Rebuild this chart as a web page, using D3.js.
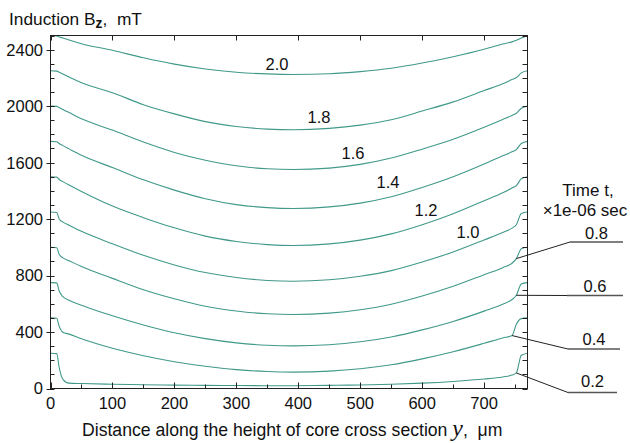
<!DOCTYPE html>
<html><head><meta charset="utf-8">
<script src="https://cdn.jsdelivr.net/npm/d3@7"></script>
<style>
html,body{margin:0;padding:0;background:#fff;}
svg{display:block;font-family:"Liberation Sans",Arial,sans-serif;}
</style></head>
<body><svg id="c" width="630" height="443"></svg>
<script>
// ---- data ----
const xPos = [0, 10, 14, 20, 30, 50, 100, 150, 200, 250, 300, 350, 392, 450, 500, 550, 600, 650, 700, 730, 745, 752, 760, 770];
const times = ["0.2","0.4","0.6","0.8","1.0","1.2","1.4","1.6","1.8","2.0"];
const b02 = [250, 247, 150, 65, 38, 35, 30, 27, 24, 22, 21, 20, 20, 22, 25, 30, 38, 50, 67, 82, 95, 110, 235, 250];
const b04 = [500, 497, 440, 398, 385, 352, 285, 232, 190, 158, 134, 120, 116, 123, 140, 168, 210, 260, 320, 358, 375, 455, 495, 500];
const b06 = [750, 748, 690, 650, 625, 590, 515, 450, 395, 353, 323, 306, 302, 310, 331, 365, 415, 475, 548, 596, 630, 660, 740, 750];
const b08 = [1000, 997, 950, 925, 905, 864, 780, 700, 636, 583, 549, 529, 524, 534, 558, 597, 655, 724, 806, 856, 887, 920, 990, 1000];
const b10 = [1250, 1247, 1200, 1178, 1156, 1113, 1025, 943, 875, 821, 786, 765, 760, 770, 795, 835, 896, 967, 1052, 1105, 1136, 1160, 1240, 1250];
const b12 = [1500, 1497, 1480, 1465, 1441, 1395, 1292, 1210, 1138, 1079, 1041, 1019, 1013, 1024, 1051, 1095, 1160, 1238, 1330, 1386, 1420, 1437, 1485, 1500];
const b14 = [1750, 1748, 1735, 1720, 1697, 1652, 1565, 1478, 1405, 1344, 1302, 1281, 1275, 1286, 1313, 1358, 1424, 1500, 1590, 1648, 1676, 1692, 1735, 1750];
const b16 = [2000, 1998, 1990, 1976, 1954, 1910, 1830, 1745, 1672, 1617, 1577, 1556, 1551, 1561, 1587, 1632, 1695, 1765, 1850, 1905, 1934, 1949, 1985, 2000];
const b18 = [2250, 2248, 2240, 2227, 2206, 2166, 2095, 2010, 1945, 1890, 1856, 1837, 1832, 1842, 1865, 1903, 1965, 2030, 2110, 2158, 2188, 2202, 2235, 2250];
const b20 = [2500, 2497, 2490, 2482, 2468, 2442, 2395, 2342, 2297, 2263, 2240, 2228, 2224, 2229, 2244, 2268, 2305, 2350, 2403, 2440, 2455, 2466, 2482, 2500];
const seriesVals = [b02, b04, b06, b08, b10, b12, b14, b16, b18, b20];
const xTicks = [0,100,200,300,400,500,600,700];
const yTicks = [0,400,800,1200,1600,2000,2400];
// inner labels (times 1.0..2.0), positioned in pixels
const innerLabels = [["2.0",277,70],["1.8",319,123],["1.6",353,159],["1.4",388,188],["1.2",426,216],["1.0",468,238]];
// outer labels: time, anchor x on curve, label line y, text baseline
const outerLabels = [["0.8",752,242,239],["0.6",752,295.5,292],["0.4",745,349,345],["0.2",752,392.5,387]];

// ---- layout ----
const svg = d3.select("#c");
const L=50.5, R=527.5, T=35.5, B=388.5;
const x = d3.scaleLinear().domain([0,770]).range([L,R]);
const y = d3.scaleLinear().domain([0,2500]).range([B,T]);
const curveColor = "#40998a";
const axisColor = "#222";

svg.append("rect").attr("width",630).attr("height",443).attr("fill","#fff");

svg.append("defs").append("clipPath").attr("id","clip")
  .append("rect").attr("x",L).attr("y",T-1).attr("width",R-L).attr("height",B-T+1);

const line = d3.line().x(d=>x(d[0])).y(d=>y(d[1])).curve(d3.curveMonotoneX);
const gCurves = svg.append("g").attr("clip-path","url(#clip)");
seriesVals.forEach((vals,i)=>{
  gCurves.append("path").datum(xPos.map((xx,j)=>[xx,vals[j]]))
    .attr("d",line).attr("fill","none").attr("stroke",curveColor).attr("stroke-width",1.1);
});

// frame
svg.append("rect").attr("x",L).attr("y",T).attr("width",R-L).attr("height",B-T)
  .attr("fill","none").attr("stroke",axisColor).attr("stroke-width",1);

// ticks
const tk = svg.append("g").attr("stroke",axisColor).attr("stroke-width",1);
d3.range(0,771,50).forEach(v=>{
  const px = Math.round(x(v))+0.5;
  const major = v%100===0;
  tk.append("line").attr("x1",px).attr("x2",px).attr("y1",B).attr("y2",B-(major?6:4));
  if(major) tk.append("line").attr("x1",px).attr("x2",px).attr("y1",T).attr("y2",T+5);
});
d3.range(0,2501,100).forEach(v=>{
  const py = Math.round(y(v))+0.5;
  const major = v%400===0;
  tk.append("line").attr("x1",major?L-4:L).attr("x2",L+4).attr("y1",py).attr("y2",py);
  tk.append("line").attr("x1",R).attr("x2",R-5).attr("y1",py).attr("y2",py);
});

// tick labels
const fs = "16.5px";
svg.append("g").selectAll("text").data(xTicks).join("text")
  .attr("x",d=>x(d)).attr("y",409).attr("text-anchor","middle")
  .attr("font-size",fs).attr("fill","#111").text(d=>d);
svg.append("g").selectAll("text").data(yTicks).join("text")
  .attr("x",43).attr("y",d=>y(d)).attr("dy","0.36em").attr("text-anchor","end")
  .attr("font-size",fs).attr("fill","#111").text(d=>d);

// fit helper: scale font of a text node so its width matches target
function fit(sel, target){
  const w = sel.node().getComputedTextLength ? sel.node().getBBox().width : 0;
  if(w>0){
    const k = target/w;
    sel.attr("transform",`translate(${sel.attr("x")*(1-k)},${sel.attr("y")*(1-k)}) scale(${k})`);
  }
}

// axis titles
const yt = svg.append("text").attr("x",9).attr("y",25).attr("font-size","17px").attr("fill","#111");
yt.append("tspan").text("Induction B");
yt.append("tspan").attr("dy",3).attr("font-size","13.5px").attr("font-weight","bold").text("z");
yt.append("tspan").attr("dy",-3).attr("xml:space","preserve").text(",  mT");
fit(yt,133);

const xt = svg.append("text").attr("x",82).attr("y",436).attr("font-size","17px").attr("fill","#111")
  .attr("xml:space","preserve");
xt.append("tspan").text("Distance along the height of core cross section ");
xt.append("tspan").attr("font-family","'Liberation Serif','Times New Roman',serif").attr("font-style","italic").attr("font-size","23px").text("y");
xt.append("tspan").text(",  μm");
fit(xt,421);

// inner curve labels
svg.append("g").selectAll("text").data(innerLabels).join("text")
  .attr("x",d=>d[1]).attr("y",d=>d[2]).attr("text-anchor","middle")
  .attr("font-size",fs).attr("fill","#111").text(d=>d[0]);

// legend header
svg.append("text").attr("x",588).attr("y",196).attr("text-anchor","middle").attr("font-size","17px").attr("fill","#111").text("Time t,");
svg.append("text").attr("x",585).attr("y",216).attr("text-anchor","middle").attr("font-size","17px").attr("fill","#111").text("×1e-06 sec");

// outer labels with leaders
const lineStart = {"0.8":570,"0.6":567,"0.4":568,"0.2":568};
const lineEnd = {"0.8":623,"0.6":623,"0.4":620,"0.2":617};
outerLabels.forEach(([t,ax,ly,ty])=>{
  const vals = seriesVals[times.indexOf(t)];
  const ay = vals[xPos.indexOf(ax)];
  const x0 = x(ax), y0 = y(ay);
  svg.append("line").attr("x1",x0).attr("y1",y0).attr("x2",lineStart[t]).attr("y2",ly)
    .attr("stroke","#222").attr("stroke-width",1);
  svg.append("line").attr("x1",lineStart[t]).attr("y1",ly).attr("x2",lineEnd[t]).attr("y2",ly)
    .attr("stroke","#555").attr("stroke-width",1.3);
  svg.append("text").attr("x",(lineStart[t]+lineEnd[t])/2).attr("y",ty).attr("text-anchor","middle")
    .attr("font-size",fs).attr("fill","#111").text(t);
});
</script></body></html>
